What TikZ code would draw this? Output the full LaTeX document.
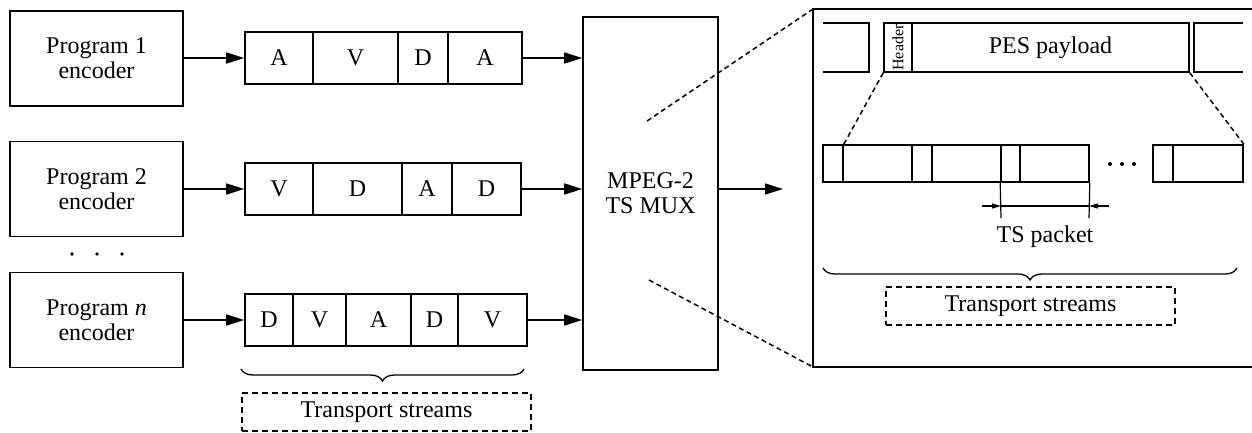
\documentclass[tikz,border=0pt]{standalone}
\usepackage{fontspec}
\setmainfont{Liberation Serif}
\usetikzlibrary{arrows.meta,decorations.pathreplacing}
\tikzset{
  base/.style={line width=1.6pt},
  encbox/.style={base,draw,inner sep=0pt,minimum width=173pt,minimum height=95pt,align=center,font=\fontsize{24}{25}\selectfont},
  cell/.style={base,draw,inner sep=0pt,minimum height=52pt,font=\fontsize{24}{26}\selectfont},
  pk/.style={base,draw,inner sep=0pt,minimum height=37pt},
  arr/.style={base,-{Triangle[length=18pt,width=11pt]}},
  smallarr/.style={line width=1.2pt,-{Triangle[length=9pt,width=5pt]}},
  dline/.style={line width=1.5pt,dash pattern=on 5pt off 3.5pt},
  dbox/.style={line width=1.5pt,dash pattern=on 6pt off 4pt,draw,inner sep=0pt,minimum width=289pt,minimum height=38pt,font=\fontsize{24}{26}\selectfont},
  brc/.style={line width=1.3pt,decorate,decoration={brace,mirror,amplitude=12pt}},
  lbl/.style={font=\fontsize{24}{26}\selectfont,inner sep=0pt}
}
\begin{document}
\begin{tikzpicture}[x=1pt,y=-1pt]
\useasboundingbox (0,0) rectangle (1252,432);
% encoders
\node[encbox] (enc1) at (96.5,58.5) {Program 1\\encoder};
\node[encbox] (enc2) at (96.5,189) {Program 2\\encoder};
\node[encbox] (encn) at (96.5,320) {Program \textit{n}\\encoder};
% dots
\fill (72,254) circle (1.8pt) coordinate (dt1);
\fill (97,254) circle (1.8pt) coordinate (dt2);
\fill (122,254) circle (1.8pt) coordinate (dt3);
% row 1
\node[cell,minimum width=68pt] (r1a) at (279,58) {A};
\node[cell,minimum width=85pt] (r1b) at (355.5,58) {V};
\node[cell,minimum width=50pt] (r1c) at (423,58) {D};
\node[cell,minimum width=74pt] (r1d) at (485,58) {A};
% row 2
\node[cell,minimum width=68pt] (r2a) at (279,189) {V};
\node[cell,minimum width=89pt] (r2b) at (357.5,189) {D};
\node[cell,minimum width=50pt] (r2c) at (427,189) {A};
\node[cell,minimum width=69pt] (r2d) at (486.5,189) {D};
% row 3
\node[cell,minimum width=48pt] (r3a) at (269,320) {D};
\node[cell,minimum width=53pt] (r3b) at (319.5,320) {V};
\node[cell,minimum width=65pt] (r3c) at (378.5,320) {A};
\node[cell,minimum width=47pt] (r3d) at (434.5,320) {D};
\node[cell,minimum width=69pt] (r3e) at (492.5,320) {V};
% mux
\node[base,draw,inner sep=0pt,minimum width=135pt,minimum height=353pt,align=center,font=\fontsize{24}{25}\selectfont] (mux) at (650.5,193.5) {MPEG-2\\TS MUX};
% arrows
\draw[arr] (enc1.east |- r1a.west) -- (r1a.west);
\draw[arr] (enc2.east |- r2a.west) -- (r2a.west);
\draw[arr] (encn.east |- r3a.west) -- (r3a.west);
\draw[arr] (r1d.east) -- (r1d.east -| mux.west);
\draw[arr] (r2d.east) -- (r2d.east -| mux.west);
\draw[arr] (r3e.east) -- (r3e.east -| mux.west);
\coordinate (outtip) at (783,189);
\draw[arr] (mux.east |- outtip) -- (outtip);
% left brace and label
\coordinate (lb1) at (241,369);
\coordinate (lb2) at (524,369);
\draw[brc] (lb1) -- (lb2);
\node[dbox] (ts1) at (386.5,412) {Transport streams};
% big zoom box
\coordinate (bbtl) at (813,9);
\coordinate (bbbl) at (813,367);
\coordinate (bbtr) at (1253,9);
\coordinate (bbbr) at (1253,367);
\draw[base] (bbtr) -- (bbtl) -- (bbbl) -- (bbbr);
\coordinate (zu) at (647,121);
\coordinate (zl) at (649,280);
\draw[dline] (zu) -- (bbtl);
\draw[dline] (zl) -- (bbbl);
% PES row
\coordinate (lp1) at (823,23);
\coordinate (lp2) at (869,23);
\coordinate (lp3) at (869,72);
\coordinate (lp4) at (823,72);
\draw[base] (lp1) -- (lp2) -- (lp3) -- (lp4);
\node[base,draw,inner sep=0pt,minimum width=28pt,minimum height=49pt] (hdr) at (898,47.5) {};
\node[rotate=90,inner sep=0pt,font=\fontsize{16}{16}\selectfont] (hdrtxt) at (hdr.center) {Header};
\node[base,draw,inner sep=0pt,minimum width=277pt,minimum height=49pt,font=\fontsize{24}{26}\selectfont] (pay) at (1050.5,47.5) {PES payload};
\coordinate (rp1) at (1243,23);
\coordinate (rp2) at (1194,23);
\coordinate (rp3) at (1194,72);
\coordinate (rp4) at (1243,72);
\draw[base] (rp1) -- (rp2) -- (rp3) -- (rp4);
% TS packets row
\node[pk,minimum width=20pt] (p1) at (833,163.5) {};
\node[pk,minimum width=69pt] (p2) at (877.5,163.5) {};
\node[pk,minimum width=20pt] (p3) at (922,163.5) {};
\node[pk,minimum width=69pt] (p4) at (966.5,163.5) {};
\node[pk,minimum width=19pt] (p5) at (1010.5,163.5) {};
\node[pk,minimum width=69pt] (p6) at (1054.5,163.5) {};
\node[pk,minimum width=20pt] (p7) at (1163,163.5) {};
\node[pk,minimum width=70pt] (p8) at (1208,163.5) {};
\fill (1110,164) circle (2pt) coordinate (pd1);
\fill (1122,164) circle (2pt) coordinate (pd2);
\fill (1134,164) circle (2pt) coordinate (pd3);
\draw[dline] (hdr.south west) -- (p1.north east);
\draw[dline] (pay.south east) -- (p8.north east);
% dimension
\coordinate (dl) at (1001,218);
\coordinate (dr) at (1089,218);
\draw[line width=1.2pt] (p5.south west) -- (dl);
\draw[line width=1.2pt] (p6.south east) -- (dr);
\coordinate (dla) at (982,206);
\coordinate (dra) at (1109,206);
\draw[line width=1.2pt] (dla -| dl) -- (dra -| dr);
\draw[smallarr] (dla) -- (dla -| dl);
\draw[smallarr] (dra) -- (dra -| dr);
\node[lbl] (tsp) at (1045,237) {TS packet};
% right brace and label
\coordinate (rb1) at (823,268);
\coordinate (rb2) at (1237,268);
\draw[brc] (rb1) -- (rb2);
\node[dbox] (ts2) at (1030.5,306) {Transport streams};
\end{tikzpicture}
\end{document}
